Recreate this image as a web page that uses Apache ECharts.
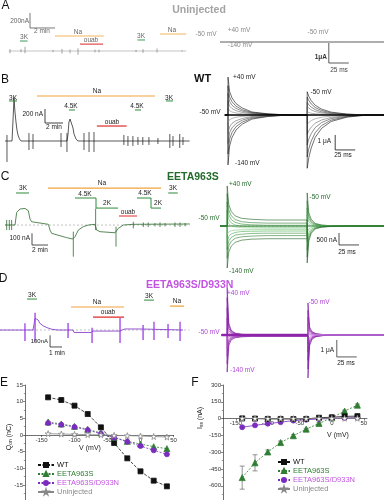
<!DOCTYPE html>
<html><head><meta charset="utf-8"><title>chart</title>
<script src="https://cdn.jsdelivr.net/npm/echarts@6.0.0/dist/echarts.min.js"></script>
<style>html,body{margin:0;padding:0;background:#fff;}#c{width:384px;height:500px;}</style>
</head><body><div id="c"></div>
<script>
// ================= DATA =================
const voltages = [-140,-120,-100,-80,-60,-40,-20,0,20,40];      // mV, test pulses
const stepTimes = [0,2,5,10,18,30,50,75];                        // ms after each voltage step

// --- voltage-clamp current families (uA), one row per test voltage ---
const uninjPulses = [50,147];
const uninjOn  = [[0.09,0.04,0.01,0,0,0,0,0],[-0.09,-0.04,-0.01,0,0,0,0,0]];
const uninjOff = [[0.08,0.03,0.01,0,0,0,0,0],[-0.08,-0.03,-0.01,0,0,0,0,0]];

const wtPulses = [45,144];
const wtOn = [
 [-3.33,-2.06,-1.5,-1.0,-0.6,-0.27,-0.1,0],
 [-2.6,-1.61,-1.17,-0.78,-0.47,-0.21,-0.08,0],
 [-1.9,-1.18,-0.86,-0.57,-0.34,-0.15,-0.06,0],
 [-1.25,-0.78,-0.56,-0.38,-0.23,-0.1,-0.04,0],
 [-0.5,-0.31,-0.23,-0.15,-0.09,-0.04,-0.02,0],
 [0.45,0.28,0.2,0.14,0.08,0.04,0.01,0],
 [0.95,0.59,0.43,0.29,0.17,0.08,0.03,0],
 [1.45,0.9,0.65,0.44,0.26,0.12,0.04,0],
 [1.95,1.21,0.88,0.59,0.35,0.16,0.06,0],
 [2.53,1.57,1.14,0.76,0.46,0.2,0.08,0]];
const wtOff = [
 [1.55,1.24,0.96,0.65,0.39,0.19,0.06,0],
 [1.2,0.96,0.74,0.5,0.3,0.14,0.05,0],
 [0.85,0.68,0.53,0.36,0.21,0.1,0.03,0],
 [0.55,0.44,0.34,0.23,0.14,0.07,0.02,0],
 [0.2,0.16,0.12,0.08,0.05,0.02,0.01,0],
 [-0.6,-0.48,-0.37,-0.25,-0.15,-0.07,-0.02,0],
 [-1.3,-1.04,-0.81,-0.55,-0.33,-0.16,-0.05,0],
 [-2.0,-1.6,-1.24,-0.84,-0.5,-0.24,-0.08,0],
 [-2.8,-2.24,-1.74,-1.18,-0.7,-0.34,-0.11,0],
 [-3.55,-2.84,-2.2,-1.49,-0.89,-0.43,-0.14,0]];

const e963Pulses = [44,144];
const e963On = [
 [-1.75,-1.08,-0.84,-0.68,-0.59,-0.55,-0.53,-0.53],
 [-1.35,-0.83,-0.64,-0.51,-0.45,-0.42,-0.40,-0.40],
 [-1.0,-0.62,-0.48,-0.38,-0.34,-0.31,-0.30,-0.30],
 [-0.7,-0.43,-0.33,-0.27,-0.23,-0.22,-0.21,-0.21],
 [-0.35,-0.24,-0.2,-0.17,-0.16,-0.15,-0.15,-0.15],
 [0.3,0.09,0.01,-0.04,-0.07,-0.08,-0.09,-0.09],
 [0.65,0.27,0.13,0.04,-0.01,-0.03,-0.04,-0.04],
 [1.0,0.47,0.27,0.15,0.08,0.05,0.03,0.03],
 [1.35,0.67,0.43,0.27,0.18,0.14,0.12,0.12],
 [1.67,0.89,0.61,0.42,0.32,0.28,0.25,0.25]];
const e963Off = [
 [1.38,0.55,0.28,0.11,0.04,0.01,0,0],
 [1.05,0.42,0.21,0.08,0.03,0.01,0,0],
 [0.75,0.3,0.15,0.06,0.02,0.01,0,0],
 [0.45,0.18,0.09,0.04,0.01,0,0,0],
 [0.15,0.06,0.03,0.01,0,0,0,0],
 [-0.3,-0.12,-0.06,-0.02,-0.01,0,0,0],
 [-0.65,-0.26,-0.13,-0.05,-0.02,-0.01,0,0],
 [-1.0,-0.4,-0.2,-0.08,-0.03,-0.01,0,0],
 [-1.3,-0.52,-0.26,-0.1,-0.04,-0.01,0,0],
 [-1.54,-0.62,-0.31,-0.12,-0.05,-0.02,0,0]];

const dnPulses = [44,145];
const dnOn = [
 [-2.18,-0.61,-0.29,-0.16,-0.11,-0.08,-0.08,-0.08],
 [-1.7,-0.47,-0.22,-0.13,-0.08,-0.06,-0.06,-0.06],
 [-1.25,-0.35,-0.17,-0.09,-0.06,-0.05,-0.05,-0.05],
 [-0.8,-0.22,-0.11,-0.06,-0.04,-0.03,-0.03,-0.03],
 [-0.3,-0.09,-0.05,-0.03,-0.02,-0.02,-0.02,-0.02],
 [0.4,0.09,0.03,0.01,0,-0.01,-0.01,-0.01],
 [1.0,0.25,0.1,0.04,0.02,0,0,0],
 [1.6,0.4,0.16,0.06,0.02,0,0,0],
 [2.2,0.55,0.22,0.09,0.03,0.01,0.01,0.01],
 [2.76,0.69,0.28,0.11,0.04,0.01,0.01,0.01]];
const dnOff = [
 [1.88,0.47,0.19,0.08,0.03,0,0,0],
 [1.45,0.36,0.15,0.06,0.02,0,0,0],
 [1.05,0.26,0.11,0.04,0.02,0,0,0],
 [0.65,0.16,0.07,0.03,0.01,0,0,0],
 [0.25,0.06,0.03,0.01,0,0,0,0],
 [-0.5,-0.13,-0.05,-0.02,-0.01,0,0,0],
 [-1.0,-0.25,-0.1,-0.04,-0.02,0,0,0],
 [-1.5,-0.38,-0.15,-0.06,-0.02,0,0,0],
 [-2.0,-0.5,-0.2,-0.08,-0.03,0,0,0],
 [-2.53,-0.63,-0.25,-0.1,-0.04,0,0,0]];

// --- continuous recordings: [time (min), current (nA)] ---
const aTrace = [[0.3,0],[14.5,0]];
const aSpikes = [[0.4,25,-30],[1.28,27,-18],[1.6,57,-30],[3.84,15,-15],[4.56,27,-35],[5.2,20,-30],[5.84,36,-50],[7.2,18,-18],[7.52,18,-18],[10.48,15,-15],[11.04,25,-25],[12.16,33,-20],[14.16,8,-8]];
const bTrace = [[0,0],[0.78,0],[0.89,300],[1.0,614],[1.05,514],[1.11,414],[1.22,271],[1.33,157],[1.44,86],[1.61,29],[1.78,0],[6.88,0],[6.99,86],[7.1,271],[7.22,314],[7.33,329],[7.44,286],[7.55,186],[7.66,100],[7.88,29],[8.1,0],[20.5,0]];
const bSpikes = [[0.22,86,-300],[2.66,114,-129],[3.11,100,-114],[6.22,114,-86],[6.88,114,-157],[8.77,114,-129],[9.33,129,-157],[9.88,129,-157],[13.2,86,-57],[13.65,71,-71],[14.2,71,-71],[14.76,57,-57],[15.3,57,-57],[15.98,57,-57],[16.98,43,-43],[18.3,100,-100],[18.65,71,-71],[19.4,100,-100],[19.76,57,-57]];
const cTrace = [[0,0],[1.25,0],[1.46,108],[1.875,137],[2.5,142],[2.92,122],[3.125,51],[3.33,28],[3.54,14],[5.42,6],[5.625,-43],[5.83,-71],[6.04,-85],[7.71,-108],[8.46,-120],[8.75,-100],[9.17,-43],[9.79,-14],[10.42,0],[11.25,6],[11.46,-43],[11.875,-57],[13.75,-66],[14.17,-28],[14.79,0],[16.04,6],[23.1,9]];
const cSpikes = [[0.21,43,-43],[0.54,43,-43],[0.83,43,-43],[8.54,-57,-271],[11.33,142,-43],[13.875,-14,-185],[16.04,28,-28],[17.29,22,-17],[17.9,22,-17],[18.75,17,-11],[19.375,22,-17],[20.0,17,-11],[21.25,22,-17],[21.875,22,-17],[22.5,17,-11]];
const dTrace = [[0,0],[2.75,0],[2.92,100],[3.08,114],[3.17,86],[3.33,57],[3.58,37],[3.92,20],[4.33,6],[4.83,0],[6.08,0],[6.17,-21],[7.58,-21],[7.75,-9],[10.0,-9],[10.17,0],[10.4,9],[11.7,9],[11.83,0],[15.25,0]];
const dSpikes = [[2.08,57,-94],[2.92,148,-100],[5.67,60,-68],[7.67,20,-111],[10.0,103,-111],[11.92,43,-86],[12.83,71,-86],[14.0,51,-68],[15.0,71,-94]];

// --- solution applications: [start, end] (min) ---
const aNa = [[4.0,7.9],[12.4,14.5]], aOuab = [[6.0,7.85]], aK3 = [[1.2,1.8],[10.6,11.2]];
const bNa = [[3.55,16.65]], bOuab = [[10.2,13.5]], bK = [[0.44,1.33],[7.1,7.77],[14.43,15.1],[17.87,18.65]];
const cNa = [[5.375,19.5]], cOuab = [[14.25,16.5]], cK3 = [[1.375,3.0],[20.4,21.6]], cK45 = [[8.75,11.375],[16.5,18.25]], cK2 = [[11.375,14.125],[18.25,19.5]];
const dNa = [[5.92,10.33],[14.17,15.33]], dOuab = [[7.75,10.33]], dK3 = [[2.25,3.08],[12.0,12.83]];

// --- panel E: Q_on (nC) ---
const qWT    = [11.3,10.5,8.8,6.3,2.3,-2.4,-7.0,-10.9,-13.7,-15.4];
const qE963  = [3.9,3.3,2.6,1.7,0.6,-0.7,-1.9,-2.7,-3.5,-4.1];
const qDN    = [3.6,3.1,2.4,1.5,0.4,-0.8,-2.0,-3.3,-4.6,-5.8];
const qUninj = [0.4,0.3,0.2,0.1,0.05,-0.1,-0.2,-0.3,-0.45,-0.6];
// --- panel F: I_ss (nA) ---
const iWT     = [2,0,-3,-3,-4,-3,8,12,20,22];
const iE963   = [-527,-395,-298,-214,-153,-94,-43,8,67,120];
const iE963Err= [103,72,18,14,10,8,6,5,8,10];
const iDN     = [-77,-60,-45,-32,-18,-10,-4,2,6,10];
const iUninj  = [2,1,0,0,0,0,1,2,3,3];
const seriesNames = ['WT','EETA963S','EETA963S/D933N','Uninjected'];

// ================= LAYOUT / STYLE =================
const F = '"Liberation Sans", Arial, Helvetica, sans-serif';
const C_NA = '#f0a23c', C_OUAB = '#e02a2a', C_K = '#2e8b3a';
const GREEN = '#236b2b', VIOLET = '#c255e0';
const grids = [
 {left:5, top:9.75, width:185, height:52.5},
 {left:192, top:22, width:192, height:40},
 {left:5, top:92, width:185, height:73.5},
 {left:192, top:74.5, width:192, height:96},
 {left:5, top:184.1, width:185, height:87.7},
 {left:192, top:182.8, width:192, height:88.8},
 {left:0, top:289.1, width:190, height:76},
 {left:192, top:284, width:192, height:96.9},
 {left:25, top:385, width:148.5, height:116.67},
 {left:223, top:385, width:144, height:117.6}
];
const ranges = [[0,14.8,-150,550],[0,240,-1,1],[0,20.54,-350,700],[0,240,-3.7,2.7],[0,23.125,-400,350],[0,240,-1.9,1.8],[0,15.83,-300,350],[0,240,-2.7,3.0]];

const series = [];
function L(gi, data, color, width, extra){
  return Object.assign({type:'line', xAxisIndex:gi, yAxisIndex:gi, data:data, symbol:'none', showSymbol:false,
    silent:true, animation:false, clip:false, z:2, lineStyle:{color:color, width:width}}, extra||{});
}
function family(gi, pulses, tStart, on, off, colors, width){
  on.forEach((row,k)=>{
    const pts = [[tStart,0],[pulses[0],0]];
    stepTimes.forEach((dt,j)=>pts.push([pulses[0]+dt,row[j]]));
    pts.push([pulses[1], row[row.length-1]]);
    stepTimes.forEach((dt,j)=>pts.push([pulses[1]+dt, off[k][j]]));
    pts.push([240,0]);
    series.push(L(gi, pts, colors[k], width));
  });
}
function spikes(gi, arr, color, width){
  series.push({type:'custom', xAxisIndex:gi, yAxisIndex:gi, silent:true, animation:false, z:3, data:arr,
    renderItem:(p,api)=>{ const a=api.coord([api.value(0),api.value(1)]), b=api.coord([api.value(0),api.value(2)]);
      return {type:'line', shape:{x1:a[0],y1:a[1],x2:b[0],y2:b[1]}, style:{stroke:color,lineWidth:width}}; }});
}
function bars(gi, rs, levels, color, w){ rs.forEach((r,i)=>series.push(L(gi,[[r[0],levels[i]],[r[1],levels[i]]],color,w||1.2))); }
function scaleBar(gi, t0, i0, dt, di, color){ series.push(L(gi,[[t0,i0+di],[t0,i0],[t0+dt,i0]],color||'#222',0.8)); }

// ----- Panel A -----
series.push(L(0, aTrace, '#9a9a9a', 0.6));
spikes(0, aSpikes, '#8a8a8a', 0.8);
bars(0, aNa, [200,227], '#f4b35e', 1.2);
bars(0, aOuab, [93], '#e25050', 1.2);
bars(0, aK3, [133,147], '#3d9a55', 1);
scaleBar(0, 2.0, 307, 2, 200, '#555');
series.push(L(1, [[35,0],[240,0]], '#9a9a9a', 0.8));
family(1, uninjPulses, 35, uninjOn, uninjOff, ['#888','#888'], 0.6);
scaleBar(1, 171, -1.05, 25, 1, '#333');

// ----- Panel B -----
series.push(L(2, bTrace, '#111', 0.7));
spikes(2, bSpikes, '#111', 0.7);
bars(2, bNa, [643], C_NA, 1.2);
bars(2, bOuab, [214], C_OUAB, 1.2);
bars(2, bK, [572,443,443,572], C_K, 1);
scaleBar(2, 4.44, 257, 2, 200, '#111');
family(3, wtPulses, 41, wtOn, wtOff, ['#111','#2a2a2a','#444','#666','#888','#888','#666','#444','#2a2a2a','#111'], 0.6);
series.push(L(3, [[41,0],[240,0]], '#000', 1.5, {z:4}));
scaleBar(3, 179, -2.33, 25, 1, '#111');

// ----- Panel C -----
series.push(L(4, [[0,0],[23.1,0]], '#9a9a9a', 0.6, {z:1, lineStyle:{color:'#9a9a9a',width:0.6,type:[2,2]}}));
series.push(L(4, cTrace, '#2e6b2e', 0.8));
spikes(4, cSpikes, '#2e6b2e', 0.8);
bars(4, cNa, [316], C_NA, 1.2);
bars(4, cOuab, [77], C_OUAB, 1.2);
bars(4, cK3, [274,274], C_K, 1);
cK45.forEach((r,i)=>series.push(L(4, [[r[0],231],[r[1],231],[cK2[i][0],145],[cK2[i][1],145]], C_K, 1)));
scaleBar(4, 3.375, -171, 2, 100, '#222');
series.push(L(5, [[35,0],[240,0]], '#aaa', 0.6, {z:1, lineStyle:{color:'#aaa',width:0.6,type:[2,2]}}));
family(5, e963Pulses, 35, e963On, e963Off, ['#1b5e20','#2e7d32','#388e3c','#4caf50','#81c784','#81c784','#4caf50','#388e3c','#2e7d32','#1b5e20'], 0.6);
series.push(L(5, [[35,0],[240,0]], '#2e7d32', 0.9, {z:4}));
scaleBar(5, 183.75, -0.79, 25, 0.5, '#222');

// ----- Panel D -----
series.push(L(6, [[0,0],[15.8,0]], '#9a9a9a', 0.6, {z:1, lineStyle:{color:'#9a9a9a',width:0.6,type:[2,2]}}));
series.push(L(6, dTrace, '#7a2bc4', 0.8));
spikes(6, dSpikes, '#9b3fe6', 1.3);
bars(6, dNa, [197,205], C_NA, 1.2);
bars(6, dOuab, [111], C_OUAB, 1.2);
bars(6, dK3, [265,256], C_K, 1);
scaleBar(6, 4.17, -145, 1, 100, '#222');
family(7, dnPulses, 37, dnOn, dnOff, ['#7b1fa2','#8e24aa','#9c27b0','#ab47bc','#ba68c8','#ba68c8','#ab47bc','#9c27b0','#8e24aa','#7b1fa2'], 0.7);
series.push(L(7, [[37,0],[145,0]], '#8e24aa', 2.6, {z:4}));
series.push(L(7, [[145,0],[240,0]], '#c58be6', 1.0, {z:4}));
scaleBar(7, 181, -1.29, 25, 1, '#333');

// ----- Panel E -----
const star = 'path://M50,0 L61,35 L98,35 L68,57 L79,91 L50,70 L21,91 L32,57 L2,35 L39,35 Z';
function xy(vals){ return voltages.map((v,i)=>[v, vals[i]]); }
function dataSeries(gi, name, vals, sym, size, color, fill, lineType, z){
  return {type:'line', name:name, xAxisIndex:gi, yAxisIndex:gi, data:xy(vals), symbol:sym, symbolSize:size,
    showSymbol:true, animation:false, silent:true, z:z,
    itemStyle:{color:fill, borderColor:color, borderWidth:0.8},
    lineStyle:{color:color, width:0.8, type:lineType}};
}
series.push(dataSeries(8, 'WT', qWT, 'rect', 5, '#111', '#111', [3,1.5], 5));
series.push(dataSeries(8, 'EETA963S', qE963, 'triangle', 6, '#2e7d32', '#2e7d32', [2,1.5], 5));
series.push(dataSeries(8, 'EETA963S/D933N', qDN, 'circle', 5, '#7b2cbf', '#7b2cbf', [2,1.5], 6));
series.push(dataSeries(8, 'Uninjected', qUninj, star, 6, '#888', '#fff', 'solid', 7));
// ----- Panel F -----
series.push({type:'custom', xAxisIndex:9, yAxisIndex:9, silent:true, animation:false, z:4,
  data: voltages.map((v,i)=>[v, iE963[i]-iE963Err[i], iE963[i]+iE963Err[i]]),
  renderItem:(p,api)=>{ const x=api.value(0); const lo=api.coord([x,api.value(1)]), hi=api.coord([x,api.value(2)]); const w=2.5;
    const st={stroke:'#666',lineWidth:0.7};
    return {type:'group', children:[
      {type:'line',shape:{x1:lo[0],y1:lo[1],x2:hi[0],y2:hi[1]},style:st},
      {type:'line',shape:{x1:lo[0]-w,y1:lo[1],x2:lo[0]+w,y2:lo[1]},style:st},
      {type:'line',shape:{x1:hi[0]-w,y1:hi[1],x2:hi[0]+w,y2:hi[1]},style:st}]}; }});
series.push(dataSeries(9, 'WT', iWT, 'rect', 5, '#111', '#111', 'solid', 6));
series.push(dataSeries(9, 'EETA963S', iE963, 'triangle', 6, '#2e7d32', '#2e7d32', [2,1.5], 5));
series.push(dataSeries(9, 'EETA963S/D933N', iDN, 'circle', 5, '#7b2cbf', '#7b2cbf', 'solid', 5));
series.push(dataSeries(9, 'Uninjected', iUninj, star, 6, '#888', '#fff', 'solid', 7));

// ----- axes -----
const xAxes = [], yAxes = [];
ranges.forEach((r,i)=>{
  xAxes.push({gridIndex:i, type:'value', min:r[0], max:r[1], show:false});
  yAxes.push({gridIndex:i, type:'value', min:r[2], max:r[3], show:false});
});
const axLine = {lineStyle:{color:'#333', width:0.7}};
const axLabel = {fontSize:6, color:'#333', fontFamily:F, margin:2, hideOverlap:false};
// x axes of E and F are drawn across the plot at current/charge = 0
xAxes.push({gridIndex:8, type:'value', min:-175, max:50, splitNumber:5, position:'bottom', offset:-66.67,
  axisLine:Object.assign({show:true,onZero:false},axLine),
  axisTick:{show:true,length:2, lineStyle:{color:'#333',width:0.6}}, axisLabel:Object.assign({show:true,showMinLabel:false},axLabel), splitLine:{show:false}});
yAxes.push({gridIndex:8, type:'value', min:-20, max:15, interval:5, axisLine:Object.assign({show:true,onZero:false},axLine),
  axisTick:{show:true,length:2, lineStyle:{color:'#333',width:0.6}}, minorTick:{show:true,splitNumber:2,length:1.2,lineStyle:{color:'#333',width:0.5}},
  axisLabel:Object.assign({showMinLabel:false},axLabel), splitLine:{show:false}});
xAxes.push({gridIndex:9, type:'value', min:-170, max:55, splitNumber:5, position:'bottom', offset:-84,
  axisLine:Object.assign({show:true,onZero:false},axLine),
  axisTick:{show:true,length:2, lineStyle:{color:'#333',width:0.6}}, axisLabel:Object.assign({show:true,showMinLabel:false, showMaxLabel:false},axLabel), splitLine:{show:false}});
yAxes.push({gridIndex:9, type:'value', min:-750, max:300, interval:150, axisLine:Object.assign({show:true,onZero:false},axLine),
  axisTick:{show:true,length:2, lineStyle:{color:'#333',width:0.6}}, minorTick:{show:true,splitNumber:2,length:1.2,lineStyle:{color:'#333',width:0.5}},
  axisLabel:Object.assign({showMinLabel:false},axLabel), splitLine:{show:false}});

// ----- legends -----
const legendColors = ['#111','#2e7d32','#c255e0','#8a8a8a'];
function legend(left, top, w){
  return {left:left, top:top, orient:'vertical', itemWidth:w, itemHeight:5, itemGap:0, padding:0, selectedMode:false,
    textStyle:{fontSize:7.5, fontFamily:F, lineHeight:9, padding:[0,0,0,-2]},
    data: seriesNames.map((n,i)=>({name:n, textStyle:{color:legendColors[i]}}))};
}

// ----- texts -----
function T(x, y, text, o){
  o = o || {};
  const al = o.align || 'center';
  return {type:'text', x:x, y:y, z:100, silent:true, rotation:o.rot||0,
    style:{text:text, fill:o.color||'#222', fontSize:o.size||6.5, fontFamily:F, fontWeight:o.weight||'normal',
      align:al, verticalAlign:'middle', textAlign:al, textVerticalAlign:'middle', rich:o.rich}};
}
const G = '#666', GV = '#b044d8';
const texts = [
 // A
 T(5.5,6,'A',{size:12,color:'#111'}), T(199,10,'Uninjected',{size:10.5,weight:'bold',color:'#a3a3a3'}),
 T(29,21,'200nA',{align:'right',color:G}), T(42,31.5,'2 min',{color:G}),
 T(78,32,'Na',{color:G}), T(91,40.5,'ouab',{color:G}), T(24,37,'3K',{color:G}), T(141,36,'3K',{color:G}), T(172,30.5,'Na',{color:G}),
 T(206,34,'-50 mV',{color:'#888'}), T(239,30,'+40 mV',{color:'#888'}), T(240,45.5,'-140 mV',{color:'#888'}), T(318,32.5,'-50 mV',{color:'#888'}),
 T(327,57,'1μA',{align:'right',weight:'bold',color:'#333'}), T(339,70,'25 ms',{color:'#444'}),
 // B
 T(5,79.5,'B',{size:12,color:'#111'}), T(194,79,'WT',{size:11,weight:'bold',align:'left',color:'#111'}),
 T(13,98,'3K'), T(97,91,'Na'), T(43,114,'200 nA',{align:'right'}), T(54,127.5,'2 min'),
 T(71,106,'4.5K'), T(137,106,'4.5K'), T(169,98,'3K'), T(112,122,'ouab'),
 T(233,77,'+40 mV',{align:'left'}), T(210,112,'-50 mV'), T(235,163,'-140 mV',{align:'left'}), T(321,92,'-50 mV'),
 T(331,141,'1 μA',{align:'right'}), T(343,155,'25 ms'),
 // C
 T(5,176.5,'C',{size:12,color:'#111'}), T(167,177,'EETA963S',{size:10.5,weight:'bold',align:'left',color:GREEN}),
 T(23,188,'3K'), T(102,183,'Na'), T(85,194,'4.5K'), T(107,203,'2K'), T(128,212,'ouab'), T(145,193,'4.5K'), T(158,203,'2K'), T(173,188,'3K'),
 T(30,238,'100 nA',{align:'right'}), T(40,250,'2 min'),
 T(229,184,'+40 mV',{align:'left',color:GREEN}), T(209,218,'-50 mV',{color:GREEN}), T(229,271,'-140 mV',{align:'left',color:GREEN}), T(320,197,'-50 mV',{color:GREEN}),
 T(337,240,'500 nA',{align:'right'}), T(347,252,'25 ms'),
 // D
 T(3,279,'D',{size:12,color:'#111'}), T(146,285,'EETA963S/D933N',{size:10.5,weight:'bold',align:'left',color:VIOLET}),
 T(32,295,'3K'), T(97,302,'Na'), T(108,312,'ouab'), T(149,296,'3K'), T(177,301,'Na'),
 T(48,341,'100nA',{align:'right',size:6}), T(57,353,'1 min'),
 T(227,293,'+40 mV',{align:'left',color:GV}), T(209,332,'-50 mV',{color:GV}), T(230,370,'-140 mV',{align:'left',color:GV}), T(319,302,'-50 mV',{color:GV}),
 T(334,350,'1 μA',{align:'right'}), T(346,363,'25 ms'),
 // E
 T(4,383,'E',{size:12,color:'#111'}), T(90,448,'V (mV)',{size:7}),
 T(9,437,'{a|Q}{b|on}{a| (nC)}',{rot:Math.PI/2, rich:{a:{fontSize:7,fontFamily:F,fill:'#222',color:'#222'}, b:{fontSize:5,fontFamily:F,fill:'#222',color:'#222',padding:[3,0,0,0]}}}),
 // F
 T(195,383,'F',{size:12,color:'#111'}), T(338,435,'V (mV)',{size:7}),
 T(200,418,'{a|I}{b|ss}{a| (nA)}',{rot:Math.PI/2, rich:{a:{fontSize:7,fontFamily:F,fill:'#222',color:'#222'}, b:{fontSize:5,fontFamily:F,fill:'#222',color:'#222',padding:[3,0,0,0]}}})
];

const chart = echarts.init(document.getElementById('c'), null, {renderer:'canvas', width:384, height:500});
chart.setOption({
  animation:false,
  backgroundColor:'#fff',
  textStyle:{fontFamily:F},
  grid: grids.map(g=>Object.assign({outerBoundsMode:'none', containLabel:false}, g)),
  xAxis: xAxes, yAxis: yAxes,
  legend: [legend(37, 460.5, 16), legend(277, 457.5, 12)],
  series: series,
  graphic: {elements: texts}
});
</script></body></html>
